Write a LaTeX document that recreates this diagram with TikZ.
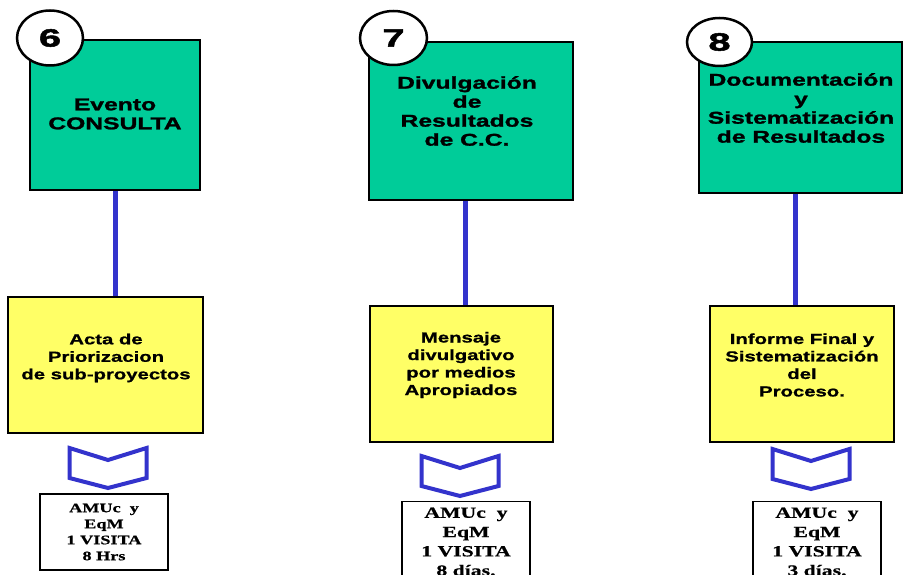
\documentclass[tikz,border=0pt]{standalone}
\usepackage{fontspec}
\setmainfont{Liberation Sans}
\newfontfamily\greenfont{Liberation Sans}[UprightFont={* Bold}, FakeStretch=1.45, FakeBold=1.5]
\newfontfamily\yellowfont{Liberation Sans}[UprightFont={* Bold}, FakeStretch=1.4, FakeBold=1]
\newfontfamily\numfont{Liberation Sans}[UprightFont={* Bold}, FakeStretch=1.6, FakeBold=2]
\newfontfamily\timesbox{Liberation Serif}[UprightFont={* Bold}, FakeStretch=1.4, FakeBold=0.6]
\usetikzlibrary{shapes.geometric}

\definecolor{phasegreen}{RGB}{0,204,153}
\definecolor{resultyellow}{RGB}{255,255,102}
\definecolor{linkblue}{RGB}{51,51,204}

\begin{document}
\begin{tikzpicture}[x=1pt, y=-1pt,
    phasebox/.style={draw, line width=1.8pt, fill=phasegreen},
    resultbox/.style={draw, line width=1.6pt, fill=resultyellow},
    resourcebox/.style={draw, line width=1.4pt, fill=white, align=center},
    phasenum/.style={ellipse, draw, line width=2.5pt, fill=white, inner sep=0pt, font=\numfont\fontsize{25}{25}\selectfont},
    phasetext/.style={align=center, font=\greenfont\fontsize{17}{19}\selectfont},
    resulttext/.style={align=center, font=\yellowfont\fontsize{14.5}{17.5}\selectfont},
    link/.style={draw=linkblue, line width=5pt},
    chevron/.pic={\draw[linkblue, line width=4pt] (-38.5,0) -- (0,12) -- (38.5,0) -- (38.5,30) -- (0,40) -- (-38.5,30) -- cycle;}
  ]
  \useasboundingbox (0,0) rectangle (903,575);

  % Column 6
  \node[phasebox, minimum width=170pt, minimum height=150pt] (G6) at (115,115) {};
  \node[phasetext] (T6) at (115,114) {Evento\\CONSULTA};
  \node[phasenum, minimum width=66pt, minimum height=55pt] (N6) at (50,38) {6};
  \node[resultbox, minimum width=195pt, minimum height=136pt] (Y6) at (105.5,365) {};
  \node[resulttext] (R6) at (106,358) {Acta de\\Priorizacion\\de sub-proyectos};
  \path[link] (G6.south) -- (G6.south |- Y6.north);
  \pic at (108,448) {chevron};
  \node[resourcebox, minimum width=128pt, minimum height=76pt, font=\timesbox\fontsize{13}{16}\selectfont] (W6) at (104,532) {AMUc~ y\\EqM\\1 VISITA\\8 Hrs};

  % Column 7
  \node[phasebox, minimum width=204pt, minimum height=158pt] (G7) at (471,121) {};
  \node[phasetext] (T7) at (467,111) {Divulgación\\de\\Resultados\\de C.C.};
  \node[phasenum, minimum width=67pt, minimum height=54pt] (N7) at (393.5,38) {7};
  \node[resultbox, minimum width=183pt, minimum height=136pt] (Y7) at (461.5,374) {};
  \node[resulttext] (R7) at (461,365) {Mensaje\\divulgativo\\por medios\\Apropiados};
  \path[link] ([xshift=-6pt]G7.south) -- ([xshift=-6pt]G7.south |- Y7.north);
  \pic at (460,456) {chevron};
  \node[resourcebox, anchor=north, minimum width=128pt, minimum height=80pt, inner xsep=1pt, inner ysep=1pt, font=\timesbox\fontsize{15.5}{19.3}\selectfont] (W7) at (466,501) {AMUc~ y\\EqM\\1 VISITA\\8 días.};

  % Column 8
  \node[phasebox, minimum width=203pt, minimum height=151pt] (G8) at (800.5,117.5) {};
  \node[phasetext] (T8) at (801,108) {Documentación\\y\\Sistematización\\de Resultados};
  \node[phasenum, minimum width=65pt, minimum height=48pt] (N8) at (719.5,42) {8};
  \node[resultbox, minimum width=184pt, minimum height=136pt] (Y8) at (802,374) {};
  \node[resulttext] (R8) at (802,365) {Informe Final y\\Sistematización\\del\\Proceso.};
  \path[link] ([xshift=-5.5pt]G8.south) -- ([xshift=-5.5pt]G8.south |- Y8.north);
  \pic at (811,449) {chevron};
  \node[resourcebox, anchor=north, minimum width=128pt, minimum height=80pt, inner xsep=1pt, inner ysep=1pt, font=\timesbox\fontsize{15.5}{19.3}\selectfont] (W8) at (817,501) {AMUc~ y\\EqM\\1 VISITA\\3 días.};
\end{tikzpicture}
\end{document}
